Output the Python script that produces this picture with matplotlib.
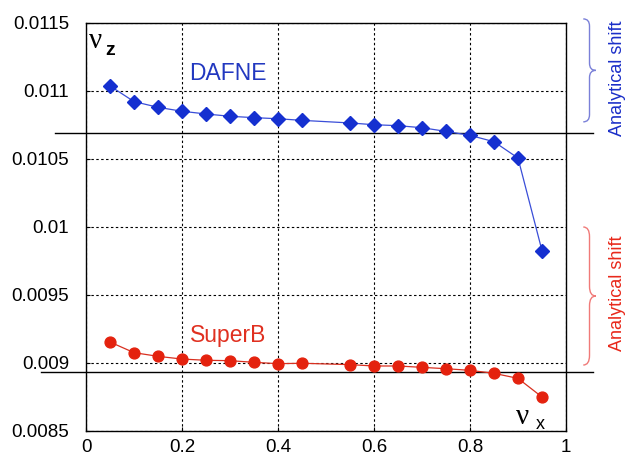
import matplotlib
matplotlib.use("Agg")
import matplotlib.pyplot as plt
import matplotlib.transforms as mtransforms
from matplotlib.path import Path
from matplotlib.patches import PathPatch

plt.rcParams['font.family'] = ['Liberation Sans', 'DejaVu Sans']

nu_x = [0.05, 0.10, 0.15, 0.20, 0.25, 0.30, 0.35, 0.40, 0.45,
        0.55, 0.60, 0.65, 0.70, 0.75, 0.80, 0.85, 0.90, 0.95]
dafne = [0.011037, 0.010922, 0.010880, 0.010851, 0.010831, 0.010814, 0.010804, 0.010796, 0.010784,
         0.010765, 0.010752, 0.010745, 0.010730, 0.010703, 0.010674, 0.010627, 0.010507, 0.009826]
superb = [0.009154, 0.009076, 0.009049, 0.009029, 0.009020, 0.009017, 0.009005, 0.008995, 0.008998,
          0.008988, 0.008978, 0.008978, 0.008968, 0.008958, 0.008946, 0.008924, 0.008887, 0.008750]
dafne_analytical = 0.010693
superb_analytical = 0.008934
xticks = [0, 0.2, 0.4, 0.6, 0.8, 1]
xticklabels = ['0', '0.2', '0.4', '0.6', '0.8', '1']
yticks = [0.0085, 0.009, 0.0095, 0.01, 0.0105, 0.011, 0.0115]
yticklabels = ['0.0085', '0.009', '0.0095', '0.01', '0.0105', '0.011', '0.0115']

BLUE = '#1530d0'
BLUE_LINE = '#3a4ed8'
RED = '#e4220e'
RED_LINE = '#d83020'

fig = plt.figure(figsize=(6.27, 4.57), dpi=100)
ax = fig.add_axes([0.1372, 0.0569, 0.9027 - 0.1372, 0.9497 - 0.0569])

ax.plot(nu_x, dafne, '-', color=BLUE_LINE, lw=0.9, zorder=3)
ax.plot(nu_x, dafne, 'D', color=BLUE, ms=7, mec=BLUE, zorder=4)
ax.plot(nu_x, superb, '-', color=RED_LINE, lw=0.9, zorder=3)
ax.plot(nu_x, superb, 'o', color=RED, ms=7.8, mec=RED, zorder=4)

ax.set_xlim(0, 1)
ax.set_ylim(0.0085, 0.0115)
ax.set_xticks(xticks)
ax.set_xticklabels(xticklabels)
ax.set_yticks(yticks)
ax.set_yticklabels(yticklabels)
ax.tick_params(direction='in', length=3, labelsize=13.5, width=0.8)
ax.tick_params(axis='y', pad=12)
ax.tick_params(axis='x', pad=6)
ax.grid(True, color='black', linestyle=(0, (2.2, 2.2)), lw=0.8)
for s in ax.spines.values():
    s.set_linewidth(1.0)
    s.set_color('black')

# analytical reference lines extending beyond axes
ax.axhline(dafne_analytical, xmin=-0.065, xmax=1.056, color='black', lw=1.0, clip_on=False, zorder=2)
ax.axhline(superb_analytical, xmin=-0.094, xmax=1.056, color='black', lw=1.0, clip_on=False, zorder=2)

# axis symbols
ax.text(0.006, 0.01137, 'ν', fontsize=21, family='Liberation Serif', color='black', va='center', ha='left')
ax.text(0.040, 0.01130, 'z', fontsize=14, fontweight='bold', color='black', va='center', ha='left')
ax.text(0.896, 0.00860, 'ν', fontsize=21, family='Liberation Serif', color='black', va='center', ha='left')
ax.text(0.938, 0.00855, 'x', fontsize=13, color='black', va='center', ha='left')

ax.text(0.215, 0.011132, 'DAFNE', fontsize=16.5, color='#2238c0', va='center', ha='left')
ax.text(0.217, 0.009199, 'SuperB', fontsize=16.5, color='#e03020', va='center', ha='left')

trans = mtransforms.blended_transform_factory(ax.transAxes, ax.transData)

def brace(y0, y1, color):
    x0, x1 = 1.036, 1.062
    xm = (x0 + x1) / 2
    ym = (y0 + y1) / 2
    r = (y1 - y0) * 0.07
    verts = [(x0, y1), (xm, y1), (xm, y1 - r),
             (xm, ym + r),
             (xm, ym), (x1, ym),
             (xm, ym), (xm, ym - r),
             (xm, y0 + r),
             (xm, y0), (x0, y0)]
    codes = [Path.MOVETO, Path.CURVE3, Path.CURVE3,
             Path.LINETO,
             Path.CURVE3, Path.CURVE3,
             Path.CURVE3, Path.CURVE3,
             Path.LINETO,
             Path.CURVE3, Path.CURVE3]
    p = PathPatch(Path(verts, codes), fill=False, edgecolor=color, lw=1.0,
                  transform=trans, clip_on=False)
    ax.add_patch(p)

brace(0.010773, 0.011530, '#7a80d8')
brace(0.008985, 0.010000, '#f07a78')

ax.text(1.107, 0.011096, 'Analytical shift', rotation=90, fontsize=13,
        color='#1a2ec8', va='center', ha='center', transform=trans, clip_on=False)
ax.text(1.107, 0.009515, 'Analytical shift', rotation=90, fontsize=13,
        color='#e8281a', va='center', ha='center', transform=trans, clip_on=False)

fig.savefig('out.png', dpi=100)
